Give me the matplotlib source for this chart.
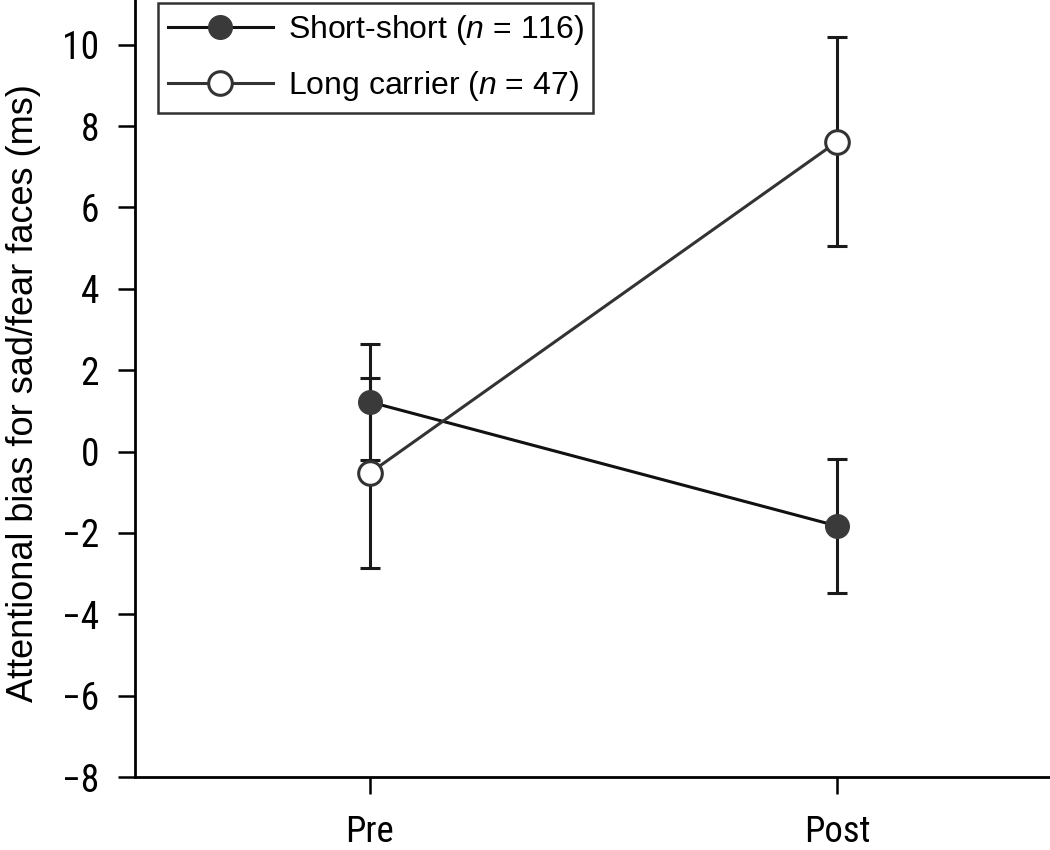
import matplotlib
matplotlib.use("Agg")
import matplotlib.pyplot as plt
from matplotlib import font_manager

# ---- data ----
time_labels = ["Pre", "Post"]
short_mean = [1.22, -1.83]
short_err = [1.43, 1.65]
long_mean = [-0.53, 7.62]
long_err = [2.33, 2.56]
short_label = r"Short-short ($\mathit{n}$ = 116)"
long_label = r"Long carrier ($\mathit{n}$ = 47)"
yticks = [-8, -6, -4, -2, 0, 2, 4, 6, 8, 10]

names = {f.name for f in font_manager.fontManager.ttflist}
narrow = "Liberation Sans"
for cand in ["Roboto Condensed", "Archivo Narrow", "Barlow Semi Condensed"]:
    if cand in names:
        narrow = cand
        break

plt.rcParams["font.family"] = ["Liberation Sans", "DejaVu Sans"]
plt.rcParams["mathtext.fontset"] = "custom"
plt.rcParams["mathtext.it"] = "Liberation Sans:italic"
plt.rcParams["mathtext.rm"] = "Liberation Sans"

fig = plt.figure(figsize=(10.5, 8.5), dpi=100)
ax = fig.add_axes([135/1050, 1-777/850, 1-135/1050, 777/850])

x = list(range(len(time_labels)))

ax.errorbar(x, short_mean, yerr=short_err, fmt="none", ecolor="#1a1a1a",
            elinewidth=2.2, capsize=7, capthick=2.2, zorder=2)
ax.errorbar(x, long_mean, yerr=long_err, fmt="none", ecolor="#1a1a1a",
            elinewidth=2.2, capsize=7, capthick=2.2, zorder=2)
ax.plot(x, short_mean, color="#111111", lw=2.2, marker="o", markersize=17,
        markerfacecolor="#3a3a3a", markeredgecolor="#3a3a3a", label=short_label, zorder=3)
ax.plot(x, long_mean, color="#333333", lw=2.2, marker="o", markersize=17,
        markerfacecolor="white", markeredgecolor="#333333", markeredgewidth=2.2,
        label=long_label, zorder=3)

ax.set_xlim(-0.502, 1.455)
ax.set_ylim(-8, 11.1)
ax.set_xticks(x)
ax.set_xticklabels(time_labels, fontsize=26.5, family=narrow)
ax.set_yticks(yticks)
ax.set_yticklabels([str(v).replace("-", "\u2212") for v in yticks], fontsize=27, family=narrow)
ax.set_ylabel("Attentional bias for sad/fear faces (ms)", fontsize=26, family="Liberation Sans")
ax.yaxis.set_label_coords(-0.103, 0.494)

for s in ["top", "right"]:
    ax.spines[s].set_visible(False)
for s in ["left", "bottom"]:
    ax.spines[s].set_linewidth(2)
ax.tick_params(axis="both", direction="out", length=12, width=1.8)
ax.tick_params(axis="x", pad=15)
ax.tick_params(axis="y", pad=14)

leg = ax.legend(loc="upper left", bbox_to_anchor=(20/915, 1.0), fontsize=23,
                frameon=True, fancybox=False, edgecolor="black", handlelength=3.3,
                borderpad=0.3, labelspacing=0.7, handletextpad=0.45, borderaxespad=0.1)
leg.get_frame().set_linewidth(1.8)

fig.savefig("out.png", dpi=100)
